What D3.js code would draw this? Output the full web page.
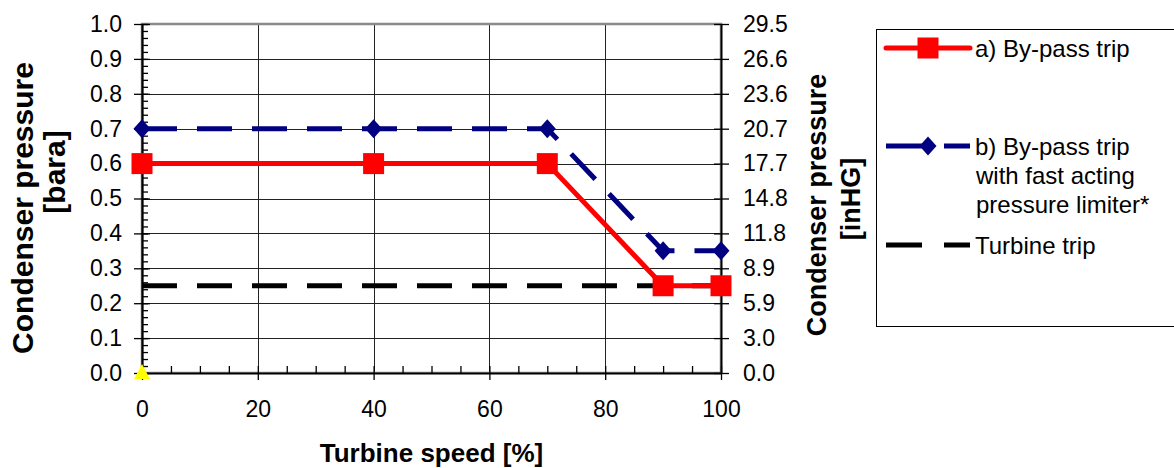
<!DOCTYPE html>
<html>
<head>
<meta charset="utf-8">
<script src="https://cdn.jsdelivr.net/npm/d3@7"></script>
<style>
  body { margin: 0; background: #fff; }
  svg { display: block; font-family: "Liberation Sans", Arial, sans-serif; }
</style>
</head>
<body>
<div id="container"></div>
<script>

// turbine speed [%]
var speeds = [0, 40, 70, 90, 100];
// a) by-pass trip [bara]
var bypassTrip = [0.6, 0.6, 0.6, 0.25, 0.25];
// b) by-pass trip with fast acting pressure limiter [bara]
var bypassLimiter = [0.7, 0.7, 0.7, 0.35, 0.35];
// turbine trip, flat line
var turbineSpeeds = [0, 100];
var turbineTrip = [0.25, 0.25];
// hidden series for right axis (yellow marker)
var helperSpeeds = [0];
var helperValues = [0];

var leftTicks = [0, 0.1, 0.2, 0.3, 0.4, 0.5, 0.6, 0.7, 0.8, 0.9, 1.0];
var rightTickLabels = ["0.0", "3.0", "5.9", "8.9", "11.8", "14.8", "17.7", "20.7", "23.6", "26.6", "29.5"];
var xTicks = [0, 20, 40, 60, 80, 100];

var legendLabels = [
	["a) By-pass trip"],
	["b) By-pass trip", "with fast acting", "pressure limiter*"],
	["Turbine trip"]
];


function drawit() {
	var W = 1174, H = 468;
	var svg = d3.select("#container").append("svg")
		.attr("width", W).attr("height", H);
	svg.append("rect").attr("width", W).attr("height", H).attr("fill", "#fff");

	var x = d3.scaleLinear().domain([0, 100]).range([142, 721]);
	var y = d3.scaleLinear().domain([0, 1]).range([373, 24]);

	// grid
	svg.append("g").selectAll("line")
		.data(leftTicks.slice(1, -1))
		.enter().append("line")
		.attr("x1", x(0)).attr("x2", x(100))
		.attr("y1", function(d) { return Math.round(y(d)) + 0.5; })
		.attr("y2", function(d) { return Math.round(y(d)) + 0.5; })
		.attr("stroke", "#222").attr("stroke-width", 1);
	svg.append("g").selectAll("line")
		.data(xTicks.slice(1, -1))
		.enter().append("line")
		.attr("y1", y(0)).attr("y2", y(1))
		.attr("x1", function(d) { return Math.round(x(d)) + 0.5; })
		.attr("x2", function(d) { return Math.round(x(d)) + 0.5; })
		.attr("stroke", "#222").attr("stroke-width", 1);

	// plot border
	svg.append("rect")
		.attr("x", x(0)).attr("y", y(1))
		.attr("width", x(100) - x(0)).attr("height", y(0) - y(1))
		.attr("fill", "none").attr("stroke", "#8a8a8a").attr("stroke-width", 2.5);

	// left axis
	svg.append("g").attr("transform", "translate(" + x(0) + ",0)")
		.call(d3.axisLeft(y).tickValues(leftTicks).tickFormat(d3.format(".1f"))
			.tickSizeInner(8).tickSizeOuter(0).tickPadding(12));
	svg.append("g").attr("transform", "translate(" + x(0) + ",0)")
		.call(d3.axisRight(y).tickValues(leftTicks).tickFormat("").tickSizeInner(8).tickSizeOuter(0));
	svg.append("g").attr("transform", "translate(" + x(0) + ",0)")
		.call(d3.axisRight(y).tickValues(d3.range(0, 51).map(function(i) { return i / 50; }))
			.tickFormat("").tickSizeInner(6).tickSizeOuter(0));

	// right axis
	svg.append("g").attr("transform", "translate(" + x(100) + ",0)")
		.call(d3.axisRight(y).tickValues(leftTicks)
			.tickFormat(function(d, i) { return rightTickLabels[i]; })
			.tickSizeInner(8).tickSizeOuter(0).tickPadding(14));
	svg.append("g").attr("transform", "translate(" + x(100) + ",0)")
		.call(d3.axisLeft(y).tickValues(leftTicks).tickFormat("").tickSizeInner(7).tickSizeOuter(0));

	// bottom axis
	svg.append("g").attr("transform", "translate(0," + y(0) + ")")
		.call(d3.axisBottom(x).tickValues(xTicks).tickFormat(d3.format("d"))
			.tickSizeInner(7).tickSizeOuter(0).tickPadding(21));
	svg.append("g").attr("transform", "translate(0," + y(0) + ")")
		.call(d3.axisTop(x).tickValues(d3.range(0, 101, 5)).tickFormat("")
			.tickSizeInner(7).tickSizeOuter(0));

	svg.selectAll(".tick line").attr("stroke", "#000").attr("stroke-width", 1.3);
	svg.selectAll(".domain").attr("stroke", "#000").attr("stroke-width", 1.5);
	svg.selectAll(".tick text").attr("font-size", 23).attr("fill", "#000")
		.attr("font-family", "Liberation Sans, Arial, sans-serif");

	// axis titles
	svg.append("text")
		.attr("x", x(50)).attr("y", 462)
		.attr("text-anchor", "middle").attr("font-weight", "bold").attr("font-size", 26)
		.text("Turbine speed [%]");
	svg.append("text")
		.attr("transform", "translate(33,208) rotate(-90)")
		.attr("text-anchor", "middle").attr("font-weight", "bold").attr("font-size", 30)
		.text("Condenser pressure");
	svg.append("text")
		.attr("transform", "translate(65,172) rotate(-90)")
		.attr("text-anchor", "middle").attr("font-weight", "bold").attr("font-size", 30)
		.text("[bara]");
	svg.append("text")
		.attr("transform", "translate(826,205) rotate(-90)")
		.attr("text-anchor", "middle").attr("font-weight", "bold").attr("font-size", 27)
		.text("Condenser pressure");
	svg.append("text")
		.attr("transform", "translate(860,199) rotate(-90)")
		.attr("text-anchor", "middle").attr("font-weight", "bold").attr("font-size", 27)
		.text("[inHG]");

	// series
	var line = d3.line()
		.x(function(d) { return x(d[0]); })
		.y(function(d) { return y(d[1]); });
	var dash = "35,20";

	svg.append("path")
		.datum(d3.zip(turbineSpeeds, turbineTrip))
		.attr("d", line).attr("fill", "none")
		.attr("stroke", "#000").attr("stroke-width", 5).attr("stroke-dasharray", dash);

	svg.append("path")
		.datum(d3.zip(speeds, bypassTrip))
		.attr("d", line).attr("fill", "none")
		.attr("stroke", "#ff0000").attr("stroke-width", 5).attr("stroke-linejoin", "round");

	svg.append("path")
		.datum(d3.zip(speeds, bypassLimiter))
		.attr("d", line).attr("fill", "none")
		.attr("stroke", "#000080").attr("stroke-width", 5).attr("stroke-dasharray", dash);

	var square = d3.symbol().type(d3.symbolSquare).size(21 * 21);
	var diamond = "M0,-9.5L8.5,0L0,9.5L-8.5,0Z";
	var tri = "M0,-9L8,6L-8,6Z";

	svg.append("g").selectAll("path")
		.data(d3.zip(speeds, bypassTrip))
		.enter().append("path")
		.attr("transform", function(d) { return "translate(" + x(d[0]) + "," + y(d[1]) + ")"; })
		.attr("d", square).attr("fill", "#ff0000");

	svg.append("g").selectAll("path")
		.data(d3.zip(speeds, bypassLimiter))
		.enter().append("path")
		.attr("transform", function(d) { return "translate(" + x(d[0]) + "," + y(d[1]) + ")"; })
		.attr("d", diamond).attr("fill", "#000080");

	svg.append("g").selectAll("path")
		.data(d3.zip(helperSpeeds, helperValues))
		.enter().append("path")
		.attr("transform", function(d) { return "translate(" + x(d[0]) + "," + y(d[1]) + ")"; })
		.attr("d", tri).attr("fill", "#ffff00");

	// legend
	svg.append("rect")
		.attr("x", 876.5).attr("y", 29.5).attr("width", 320).attr("height", 297)
		.attr("fill", "#fff").attr("stroke", "#000").attr("stroke-width", 1);

	var lg = svg.append("g");
	var legendY = [48, 146, 245];
	var legendColors = ["#ff0000", "#000080", "#000"];
	for (var i = 0; i < 3; i++) {
		var ly = legendY[i];
		lg.append("line")
			.attr("x1", 886).attr("x2", 970).attr("y1", ly).attr("y2", ly)
			.attr("stroke", legendColors[i]).attr("stroke-width", 5)
			.attr("stroke-linecap", i == 0 ? "round" : "butt")
			.attr("stroke-dasharray", i == 0 ? null : "36,22");
		if (i == 0) lg.append("path").attr("transform", "translate(928," + ly + ")").attr("d", square).attr("fill", "#ff0000");
		if (i == 1) lg.append("path").attr("transform", "translate(928," + ly + ")").attr("d", diamond).attr("fill", "#000080");
		var t = lg.append("text").attr("x", 975).attr("y", ly + 9).attr("font-size", 24).attr("fill", "#000");
		legendLabels[i].forEach(function(s, k) {
			t.append("tspan").attr("x", k == 0 ? 975 : 976).attr("dy", k == 0 ? 0 : 29).text(s);
		});
	}
};


drawit();
</script>
</body>
</html>
